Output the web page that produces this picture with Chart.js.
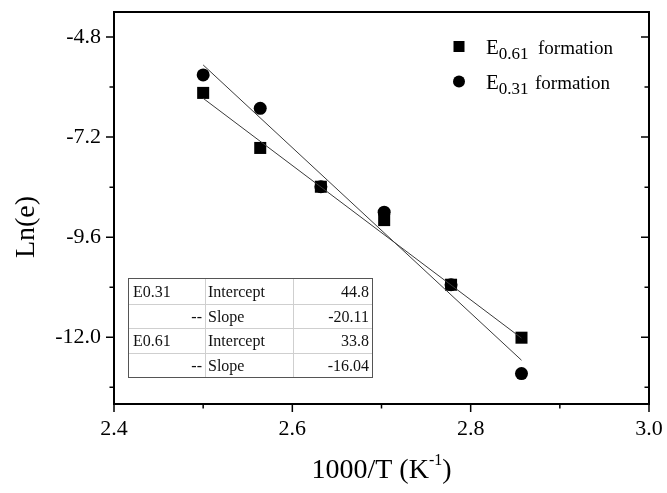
<!DOCTYPE html>
<html><head><meta charset="utf-8">
<script src="https://cdn.jsdelivr.net/npm/chart.js@4"></script>
<style>html,body{margin:0;padding:0;background:#fff}</style>
</head><body>
<canvas id="c" width="667" height="493" style="width:667px;height:493px;display:block"></canvas>
<script>
// ---- data ----
const xVals = [2.5, 2.564, 2.632, 2.703, 2.778, 2.857];          // 1000/T
const e061 = [-6.14, -7.46, -8.39, -9.19, -10.74, -12.01];       // E0.61 formation (squares)
const e031 = [-5.71, -6.51, -8.39, -9.00, -10.74, -12.87];       // E0.31 formation (circles)
const fitX = [2.5, 2.857];
const fit031 = [-5.47, -12.55];
const fit061 = [-6.27, -12.02];
const xMajor = [2.4, 2.6, 2.8, 3.0];
const xMinor = [2.5, 2.7, 2.9];
const yMajor = [-4.8, -7.2, -9.6, -12.0];
const yMinor = [-6.0, -8.4, -10.8, -13.2];
const legendNames = [["E", "0.61", "formation"], ["E", "0.31", "formation"]];
const tableRows = [
  ["E0.31", "", "Intercept", "44.8"],
  ["", "--", "Slope", "-20.11"],
  ["E0.61", "", "Intercept", "33.8"],
  ["", "--", "Slope", "-16.04"]
];

const SERIF = "'Liberation Serif', 'Times New Roman', serif";

const pts = (xs, ys) => xs.map((x, i) => ({x, y: ys[i]}));

const deco = {
  id: 'deco',
  afterDraw(chart) {
    const ctx = chart.ctx, xs = chart.scales.x, ys = chart.scales.y, a = chart.chartArea;
    ctx.save();
    // frame
    ctx.strokeStyle = '#000'; ctx.lineWidth = 2;
    ctx.strokeRect(a.left, a.top, a.right - a.left, a.bottom - a.top);
    ctx.lineWidth = 1.5;
    ctx.beginPath();
    xMajor.forEach(v => { const p = xs.getPixelForValue(v); ctx.moveTo(p, a.bottom); ctx.lineTo(p, a.bottom + 8); });
    xMinor.forEach(v => { const p = xs.getPixelForValue(v); ctx.moveTo(p, a.bottom); ctx.lineTo(p, a.bottom + 4.5); });
    yMajor.forEach(v => { const p = ys.getPixelForValue(v); ctx.moveTo(a.left, p); ctx.lineTo(a.left - 8, p); ctx.moveTo(a.right, p); ctx.lineTo(a.right - 8, p); });
    yMinor.forEach(v => { const p = ys.getPixelForValue(v); ctx.moveTo(a.left, p); ctx.lineTo(a.left - 4.5, p); ctx.moveTo(a.right, p); ctx.lineTo(a.right - 4.5, p); });
    ctx.stroke();

    // axis titles
    ctx.fillStyle = '#000';
    ctx.font = "28px " + SERIF;
    ctx.save();
    ctx.translate(27, 227); ctx.rotate(-Math.PI / 2);
    ctx.textAlign = 'center'; ctx.textBaseline = 'middle';
    ctx.fillText('Ln(e)', 0, 0);
    ctx.restore();
    // x title with superscript
    const t1 = '1000/T (K', sup = '-1', t2 = ')';
    ctx.font = "28px " + SERIF; const w1 = ctx.measureText(t1).width, w3 = ctx.measureText(t2).width;
    ctx.font = "16px " + SERIF; const w2 = ctx.measureText(sup).width;
    let x0 = (a.left + a.right) / 2 - (w1 + w2 + w3) / 2;
    const by = 478;
    ctx.textAlign = 'left'; ctx.textBaseline = 'alphabetic';
    ctx.font = "28px " + SERIF; ctx.fillText(t1, x0, by);
    ctx.font = "16px " + SERIF; ctx.fillText(sup, x0 + w1, by - 13);
    ctx.font = "28px " + SERIF; ctx.fillText(t2, x0 + w1 + w2, by);

    // legend
    const legY = [46.5, 81.5];
    ctx.fillRect(459 - 5.5, legY[0] - 5.5, 11, 11);
    ctx.beginPath(); ctx.arc(459, legY[1], 6, 0, Math.PI * 2); ctx.fill();
    const fX = [538, 535];
    legendNames.forEach((n, i) => {
      const base = legY[i] + 7.5;
      ctx.font = "21px " + SERIF; ctx.fillText(n[0], 486, base);
      const we = ctx.measureText(n[0]).width;
      ctx.font = "17px " + SERIF; ctx.fillText(n[1], 486 + we, base + 5);
      ctx.font = "19px " + SERIF; ctx.fillText(n[2], fX[i], base);
    });

    // table
    const tL = 128, tR = 372, cols = [128, 205, 293, 372], rows = [278, 304, 328, 353, 377];
    ctx.strokeStyle = '#cfcfcf'; ctx.lineWidth = 1;
    ctx.beginPath();
    for (let r = 1; r < rows.length - 1; r++) { ctx.moveTo(tL, rows[r] + 0.5); ctx.lineTo(tR, rows[r] + 0.5); }
    for (let c = 1; c < cols.length - 1; c++) { ctx.moveTo(cols[c] + 0.5, rows[0]); ctx.lineTo(cols[c] + 0.5, rows[4]); }
    ctx.stroke();
    ctx.strokeStyle = '#555';
    ctx.strokeRect(tL + 0.5, rows[0] + 0.5, tR - tL, rows[4] - rows[0]);
    ctx.font = "16px " + SERIF; ctx.fillStyle = '#111';
    tableRows.forEach((r, i) => {
      const base = (rows[i] + rows[i + 1]) / 2 + 5.5;
      ctx.textAlign = 'left';
      if (r[0]) ctx.fillText(r[0], 133, base);
      ctx.fillText(r[2], 208, base);
      ctx.textAlign = 'right';
      if (r[1]) ctx.fillText(r[1], 202, base);
      ctx.fillText(r[3], 369, base);
    });
    ctx.restore();
  }
};

new Chart(document.getElementById('c'), {
  type: 'scatter',
  data: {
    datasets: [
      { label: 'fit E0.31', data: pts(fitX, fit031), showLine: true, borderColor: '#3a3a3a', borderWidth: 1, pointRadius: 0, fill: false },
      { label: 'fit E0.61', data: pts(fitX, fit061), showLine: true, borderColor: '#3a3a3a', borderWidth: 1, pointRadius: 0, fill: false },
      { label: 'E0.31 formation', data: pts(xVals, e031), pointStyle: 'circle', pointRadius: 6.5, backgroundColor: '#000', borderColor: '#000', borderWidth: 0 },
      { label: 'E0.61 formation', data: pts(xVals, e061), pointStyle: 'rect', pointRadius: 8.5, backgroundColor: '#000', borderColor: '#000', borderWidth: 0 }
    ]
  },
  options: {
    responsive: false, animation: false, devicePixelRatio: 1,
    layout: { padding: { left: 0, right: 18, top: 12, bottom: 0 } },
    plugins: { legend: { display: false }, tooltip: { enabled: false } },
    scales: {
      x: {
        type: 'linear', min: 2.4, max: 3.0,
        afterBuildTicks: s => { s.ticks = xMajor.map(v => ({ value: v })); },
        afterFit: s => { s.height = 89; s.paddingLeft = 0; s.paddingRight = 0; },
        ticks: { callback: v => Number(v).toFixed(1), font: { family: SERIF, size: 22 }, color: '#000', padding: 12, maxRotation: 0, autoSkip: false },
        grid: { display: false, drawTicks: false },
        border: { display: false }
      },
      y: {
        type: 'linear', min: -13.6, max: -4.2,
        afterBuildTicks: s => { s.ticks = yMajor.map(v => ({ value: v })); },
        afterFit: s => { s.width = 114; s.paddingTop = 0; s.paddingBottom = 0; },
        ticks: { callback: v => Number(v).toFixed(1), font: { family: SERIF, size: 22 }, color: '#000', padding: 13, autoSkip: false },
        grid: { display: false, drawTicks: false },
        border: { display: false }
      }
    }
  },
  plugins: [deco]
});
</script>
</body></html>
